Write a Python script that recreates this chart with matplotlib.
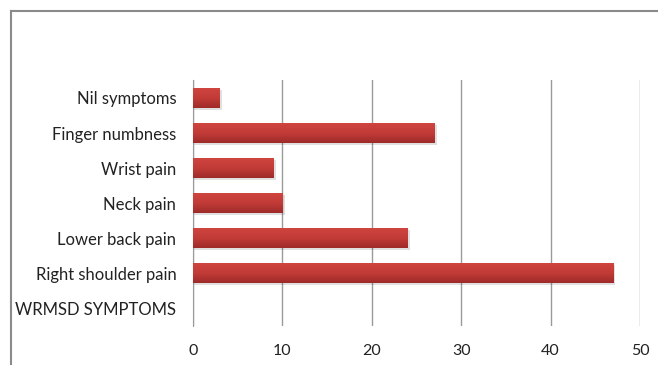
import matplotlib.pyplot as plt
import numpy as np
from matplotlib.colors import LinearSegmentedColormap
from matplotlib.lines import Line2D

categories = ["WRMSD SYMPTOMS", "Right shoulder pain", "Lower back pain",
              "Neck pain", "Wrist pain", "Finger numbness", "Nil symptoms"]
values = [0, 47, 24, 10, 9, 27, 3]
x_ticks = [0, 10, 20, 30, 40, 50]

plt.rcParams["font.family"] = ["Lato", "DejaVu Sans"]

fig = plt.figure(figsize=(6.58, 3.65), dpi=100)
ax = fig.add_axes([0.2933, 0.108, 0.6793, 0.6715])

bar_h = 0.57
cmap = LinearSegmentedColormap.from_list("redgrad", ["#9e2b29", "#c23b37", "#cf4540"])
grad = np.linspace(0, 1, 64).reshape(-1, 1)

for i, v in enumerate(values):
    if v <= 0:
        continue
    # soft shadow under the bar
    ax.barh(i - 0.06, v + 0.25, height=bar_h, color="#000000", alpha=0.12, zorder=2)
    ax.imshow(grad, cmap=cmap, aspect="auto", origin="lower",
              extent=(0, v, i - bar_h / 2, i + bar_h / 2), zorder=3)

ax.set_xlim(0, 50)
ax.set_ylim(-0.5, len(categories) - 0.5)
ax.set_xticks(x_ticks)
ax.set_yticks(range(len(categories)))
ax.set_yticklabels(categories)
ax.tick_params(axis="y", length=0, pad=12, labelsize=12, colors="#222222")
ax.tick_params(axis="x", length=0, pad=13, labelsize=11.5, colors="#222222")
ax.grid(axis="x", color="#9a9a9a", linewidth=1.0, zorder=1)
ax.set_axisbelow(True)
for side in ["top", "right", "bottom"]:
    ax.spines[side].set_visible(False)
ax.spines["left"].set_color("#9a9a9a")

# outer border (chart frame) along left and top
fig.add_artist(Line2D([10.5 / 658, 10.5 / 658], [0, 1 - 10.5 / 365],
                      transform=fig.transFigure, color="#8a8a8a", linewidth=1.5))
fig.add_artist(Line2D([10.5 / 658, 1], [1 - 10.5 / 365, 1 - 10.5 / 365],
                      transform=fig.transFigure, color="#8a8a8a", linewidth=1.5))

fig.savefig("out.png", dpi=100)
